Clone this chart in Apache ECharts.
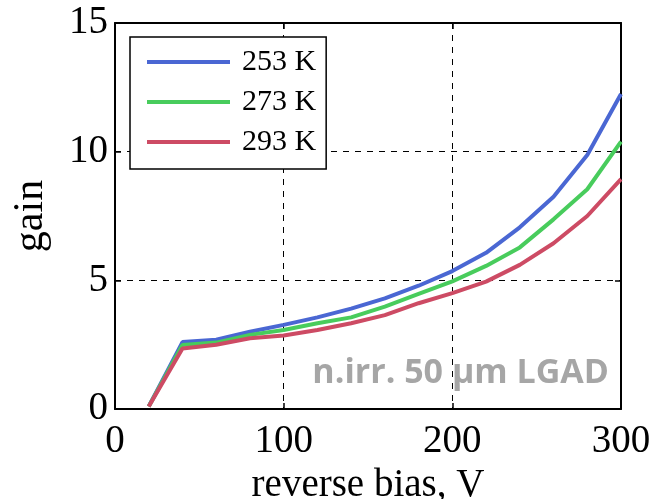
<!DOCTYPE html>
<html>
<head>
<meta charset="utf-8">
<script src="https://cdn.jsdelivr.net/npm/echarts@6/dist/echarts.min.js"></script>
<style>
  html, body { margin: 0; padding: 0; background: #fff; }
  #chart { width: 672px; height: 499px; }
</style>
</head>
<body>
<div id="chart"></div>
<script>
// reverse bias, V
let biasV = [20, 40, 60, 80, 100, 120, 140, 160, 180, 200, 220, 240, 260, 280, 300]
// gain per temperature
let gain253 = [0.1, 2.6, 2.69, 3.0, 3.27, 3.56, 3.9, 4.3, 4.79, 5.36, 6.07, 7.06, 8.25, 9.87, 12.24]
let gain273 = [0.1, 2.49, 2.58, 2.88, 3.07, 3.33, 3.56, 3.98, 4.47, 4.96, 5.56, 6.28, 7.37, 8.54, 10.39]
let gain293 = [0.1, 2.35, 2.5, 2.75, 2.86, 3.07, 3.33, 3.65, 4.11, 4.5, 4.95, 5.6, 6.44, 7.5, 8.93]

let seriesNames = ['253 K', '273 K', '293 K']
let seriesColors = ['#4a67d3', '#48cc5c', '#cd4b64']
let seriesData = [gain253, gain273, gain293]

let serif = '"Liberation Serif", "Times New Roman", serif'

function pairs(xs, ys) {
    return xs.map((x, i) => [x, ys[i]])
}

let chart = echarts.init(document.getElementById('chart'))

let dashedGrid = {
    show: true,
    lineStyle: {color: '#000', width: 1, type: [6, 6]}
}

// ticks drawn on all four sides, like a framed plot
function frameAxis(extra) {
    return Object.assign({
        type: 'value',
        axisLine: {show: true, onZero: false, lineStyle: {color: '#000', width: 2}},
        axisTick: {show: true, inside: true, length: 6, lineStyle: {color: '#000', width: 1.5}},
        axisLabel: {show: false},
        splitLine: {show: false}
    }, extra)
}

chart.setOption({
    animation: false,
    grid: {left: 115, right: 51, top: 23, bottom: 90, show: false, containLabel: false, outerBoundsMode: 'none'},
    legend: {
        left: 130,
        top: 37,
        orient: 'vertical',
        itemWidth: 83,
        itemHeight: 4,
        itemGap: 10,
        icon: 'rect',
        padding: [10, 10, 12, 17],
        borderColor: '#000',
        borderWidth: 1.5,
        backgroundColor: '#fff',
        textStyle: {
            fontFamily: serif,
            fontSize: 30,
            lineHeight: 29,
            color: '#000',
            padding: [0, 0, 0, 7]
        },
        data: seriesNames
    },
    xAxis: [
        frameAxis({
            min: 0, max: 300, interval: 100,
            name: 'reverse bias, V',
            nameLocation: 'middle',
            nameGap: 57,
            nameTextStyle: {fontFamily: serif, fontSize: 39, color: '#000'},
            axisLabel: {show: true, fontFamily: serif, fontSize: 39, color: '#000', margin: 13},
            splitLine: dashedGrid
        }),
        frameAxis({position: 'top', min: 0, max: 300, interval: 100})
    ],
    yAxis: [
        frameAxis({
            min: 0, max: 15, interval: 5,
            name: 'gain',
            nameLocation: 'middle',
            nameGap: 63,
            nameTextStyle: {fontFamily: serif, fontSize: 42, color: '#000'},
            axisLabel: {show: true, fontFamily: serif, fontSize: 39, color: '#000', margin: 7, padding: [6, 0, 0, 0]},
            splitLine: dashedGrid
        }),
        frameAxis({position: 'right', min: 0, max: 15, interval: 5})
    ],
    graphic: [{
        type: 'text',
        right: 672 - 609,
        top: 356,
        z: 10,
        style: {
            text: 'n.irr. 50 μm LGAD',
            fontFamily: '"Open Sans", "Noto Sans", sans-serif',
            fontWeight: 'bold',
            fontSize: 34,
            fill: '#a6a6a6'
        }
    }],
    series: seriesNames.map((name, i) => ({
        name: name,
        type: 'line',
        xAxisIndex: 0,
        yAxisIndex: 0,
        data: pairs(biasV, seriesData[i]),
        showSymbol: false,
        symbol: 'none',
        lineStyle: {width: 4, color: seriesColors[i]},
        itemStyle: {color: seriesColors[i]},
        z: 3
    }))
})
</script>
</body>
</html>
